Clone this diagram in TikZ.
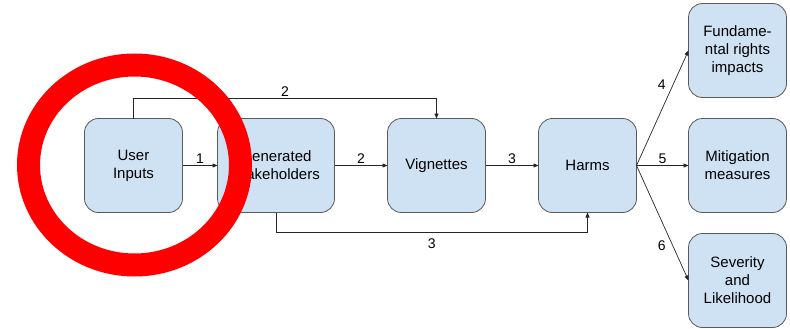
\documentclass[tikz,border=0pt]{standalone}
\usepackage{fontspec}
\setmainfont{Liberation Sans}
\usetikzlibrary{positioning, arrows.meta}

\definecolor{boxfill}{HTML}{CFE2F3}
\definecolor{boxborder}{HTML}{595959}
\definecolor{ringred}{HTML}{FF0000}

\begin{document}
\begin{tikzpicture}[
    x=1pt, y=1pt,
    % 定义通用样式
    box/.style={rectangle, draw=boxborder, fill=boxfill, line width=0.8pt, outer sep=0pt, rounded corners=14pt, minimum width=98pt, minimum height=94pt, align=center, font=\fontsize{15pt}{18pt}\selectfont},
    num/.style={font=\fontsize{14pt}{16pt}\selectfont, inner sep=2pt},
    % 定义箭头样式
    myarrow/.style={-{Triangle[length=5pt, width=4pt]}, line width=0.7pt, draw=black!85}
]
\useasboundingbox (0,0) rectangle (790,-329);

% ====================
% 主流程
% ====================
\node[box] (user) at (133.5,-165.5) {User\\Inputs};
\node[box, minimum width=117pt, right=35pt of user] (stake) {Generated\\Stakeholders};
\node[box, right=53pt of stake] (vign) {Vignettes};
\node[box, right=53pt of vign] (harms) {Harms};

% 右侧：输出
\node[box, right=52pt of harms] (mitig) {Mitigation\\measures};
\node[box, above=21pt of mitig] (rights) {Fundame-\\ntal rights\\impacts};
\node[box, below=21pt of mitig] (sev) {Severity\\and\\Likelihood};

% 绘制连线
\draw[myarrow] (user) -- node[num, above] {1} (stake);
\draw[myarrow] (stake) -- node[num, above] {2} (vign);
\draw[myarrow] (vign) -- node[num, above] {3} (harms);

\draw[myarrow] (user.north) -- ++(0,20) -| node[num, pos=0.25, above] {2} (vign.north);
\draw[myarrow] (stake.south) -- ++(0,-20) -| node[num, pos=0.25, below=4pt] {3} (harms.south);

\draw[myarrow] (harms.east) -- node[num, pos=0.7, left=5pt] {4} (rights.west);
\draw[myarrow] (harms.east) -- node[num, above] {5} (mitig.west);
\draw[myarrow] (harms.east) -- node[num, pos=0.7, left=5pt] {6} (sev.west);

% 红色圆环
\draw[ringred, line width=23pt] (134.5,-165) ellipse [x radius=106pt, y radius=100pt];

\end{tikzpicture}
\end{document}
